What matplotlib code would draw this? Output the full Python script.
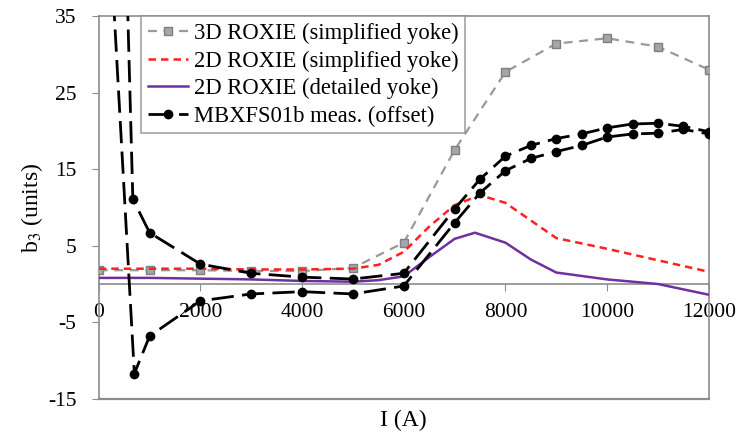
import matplotlib
matplotlib.use("Agg")
import matplotlib.pyplot as plt

plt.rcParams['font.family'] = ['Liberation Serif', 'DejaVu Serif']
plt.rcParams['mathtext.fontset'] = 'stix'
plt.rcParams['axes.unicode_minus'] = False

# 3D ROXIE (simplified yoke)
i_3d = [0, 1000, 2000, 3000, 4000, 5000, 6000, 7000, 8000, 9000, 10000, 11000, 12000]
b3_3d = [1.8, 1.8, 1.8, 1.7, 1.7, 2.1, 5.4, 17.5, 27.7, 31.4, 32.1, 31.0, 28.0]

# 2D ROXIE (simplified yoke)
i_2ds = [0, 1000, 2000, 3000, 4000, 5000, 5500, 6000, 6500, 7000, 7500, 8000, 8500, 9000, 10000, 11000, 12000]
b3_2ds = [2.0, 2.0, 2.0, 1.9, 1.9, 2.0, 2.5, 4.2, 7.5, 10.3, 11.6, 10.6, 8.3, 6.0, 4.6, 3.1, 1.6]

# 2D ROXIE (detailed yoke)
i_2dd = [0, 1000, 2000, 3000, 4000, 5000, 5500, 6000, 6500, 7000, 7400, 8000, 8500, 9000, 10000, 11000, 12000]
b3_2dd = [0.8, 0.8, 0.7, 0.6, 0.4, 0.3, 0.5, 1.0, 3.5, 5.9, 6.7, 5.4, 3.2, 1.5, 0.6, 0.0, -1.4]

# MBXFS01b measurement (offset), two ramp branches
i_up = [400, 670, 1000, 2000, 3000, 4000, 5000, 6000, 7000, 7500, 8000, 8500, 9000, 9500, 10000, 10500, 11000, 11500, 12000]
b3_up = [77.0, 11.1, 6.7, 2.6, 1.4, 0.9, 0.65, 1.4, 9.8, 13.7, 16.7, 18.1, 19.0, 19.6, 20.4, 20.9, 21.0, 20.6, 19.9]
i_dn = [200, 700, 1000, 2000, 3000, 4000, 5000, 6000, 7000, 7500, 8000, 8500, 9000, 9500, 10000, 10500, 11000, 11500, 12000]
b3_dn = [47.6, -11.7, -6.8, -2.2, -1.3, -1.0, -1.3, -0.26, 8.0, 11.9, 14.8, 16.4, 17.3, 18.1, 19.2, 19.6, 19.7, 20.2, 19.6]

grey = '#8c8c8c'

fig = plt.figure(figsize=(7.54, 4.34), dpi=100)
ax = fig.add_axes([0.131, 0.081, 0.809, 0.882])

ax.plot(i_3d, b3_3d, color='#999999', ls=(0, (4, 3)), lw=1.6, marker='s', ms=6,
        mfc='#a6a6a6', mec='#7f7f7f', label='3D ROXIE (simplified yoke)', zorder=3)
ax.plot(i_2ds, b3_2ds, color='#ff2020', ls=(0, (3, 2)), lw=1.8,
        label='2D ROXIE (simplified yoke)', zorder=3)
ax.plot(i_2dd, b3_2dd, color='#7030a0', lw=1.8, label='2D ROXIE (detailed yoke)', zorder=3)
ax.plot(i_up, b3_up, color='black', ls=(0, (8, 3)), lw=2.0, marker='o', ms=6,
        label='MBXFS01b meas. (offset)', zorder=4)
ax.plot(i_dn, b3_dn, color='black', ls=(0, (8, 3)), lw=2.0, marker='o', ms=6, zorder=4)

ax.set_xlim(0, 12000)
ax.set_ylim(-15, 35)
ax.set_xticks(range(0, 12001, 2000))
ax.set_yticks([-15, -5, 5, 15, 25, 35])

for s in ax.spines.values():
    s.set_color(grey)
    s.set_linewidth(1.2)
ax.spines['bottom'].set_position(('data', 0))
ax.axhline(-15, color=grey, lw=1.6, clip_on=False, zorder=5)

ax.tick_params(axis='x', direction='out', length=5, color=grey, labelsize=15.5, pad=9)
ax.tick_params(axis='y', direction='out', length=5, color=grey, labelsize=15.5, pad=11)

ax.set_xlabel('I (A)', fontsize=17)
ax.xaxis.set_label_coords(0.5, -0.03)
ax.set_ylabel('b$_3$ (units)', fontsize=17, labelpad=2)

leg = ax.legend(loc='upper left', bbox_to_anchor=(0.069, 1.0), borderaxespad=0,
                fontsize=16.3, frameon=True, fancybox=False, handlelength=1.8,
                handletextpad=0.25, labelspacing=0.28, borderpad=0.3)
leg.get_frame().set_edgecolor(grey)
leg.get_frame().set_linewidth(1.2)

fig.savefig('out.png', dpi=100)
